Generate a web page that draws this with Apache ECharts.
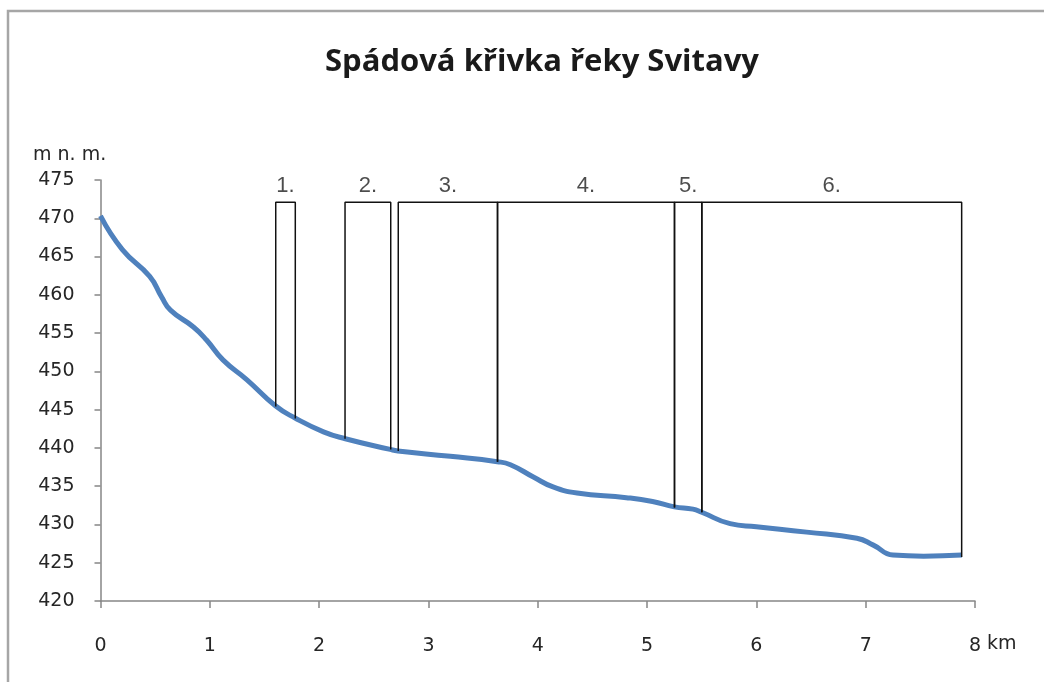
<!DOCTYPE html>
<html>
<head>
<meta charset="utf-8">
<script src="https://cdn.jsdelivr.net/npm/echarts@6/dist/echarts.min.js"></script>
<style>
html,body{margin:0;padding:0;background:#fff;}
#c{width:1044px;height:682px;}
</style>
</head>
<body>
<div id="c"></div>
<script>
// River profile data (distance in km, elevation in m n. m.)
var distanceKm = [0, 0.2, 0.45, 0.56, 0.64, 0.85, 0.97, 1.12, 1.34, 1.6, 1.78, 2.04, 2.24, 2.65, 2.72, 3.2, 3.63, 3.75, 3.96, 4.14, 4.36, 4.81, 5.05, 5.25, 5.42, 5.5, 5.76, 6.0, 6.46, 6.92, 7.07, 7.25, 7.53, 7.88];
var elevation  = [470.3, 465.9, 462.4, 459.7, 458.0, 455.8, 454.1, 451.5, 448.9, 445.5, 443.9, 442.1, 441.2, 439.8, 439.6, 438.9, 438.2, 437.8, 436.2, 434.9, 434.1, 433.5, 433.0, 432.3, 432.0, 431.6, 430.1, 429.7, 429.0, 428.2, 427.3, 426.0, 425.85, 426.0];

// Sections (brackets)
var sectionLabels    = ['1.', '2.', '3.', '4.', '5.', '6.'];
var sectionStartKm   = [1.603, 2.237, 2.724, 3.632, 5.251, 5.501];
var sectionEndKm     = [1.782, 2.655, 3.632, 5.251, 5.501, 7.878];
var sectionStartElev = [445.4, 441.2, 439.6, 438.2, 432.2, 431.6];
var sectionEndElev   = [443.85, 439.8, 438.2, 432.2, 431.6, 425.75];
var sectionTopElev   = 472.1;

// Axis ticks
var xTicks = {min: 0, max: 8, interval: 1};
var yTicks = {min: 420, max: 475, interval: 5};

var title = 'Spádová křivka řeky Svitavy';
var yUnit = 'm n. m.';
var xUnit = 'km';

var chart = echarts.init(document.getElementById('c'), null, {renderer: 'canvas'});

var profile = distanceKm.map(function (d, i) { return [d, elevation[i]]; });

var series = [{
  type: 'line',
  name: 'profile',
  data: profile,
  smooth: 0.5,
  symbol: 'none',
  lineStyle: {color: '#4F81BD', width: 5},
  z: 2
}];

sectionLabels.forEach(function (lab, i) {
  series.push({
    type: 'line',
    data: [
      [sectionStartKm[i], sectionStartElev[i]],
      [sectionStartKm[i], sectionTopElev],
      [sectionEndKm[i], sectionTopElev],
      [sectionEndKm[i], sectionEndElev[i]]
    ],
    symbol: 'none',
    lineStyle: {color: '#111', width: 1.5},
    z: 3
  });
});

series.push({
  type: 'scatter',
  data: sectionLabels.map(function (lab, i) {
    return {name: lab, value: [(sectionStartKm[i] + sectionEndKm[i]) / 2, sectionTopElev]};
  }),
  symbolSize: 0,
  itemStyle: {color: 'transparent'},
  label: {
    show: true,
    position: 'top',
    distance: 5,
    formatter: '{b}',
    fontFamily: 'Liberation Sans',
    fontSize: 22,
    color: '#1f1f1f'
  },
  z: 4
});

var axisGray = '#868686';
var labelFont = 'DejaVu Sans';

chart.setOption({
  animation: false,
  backgroundColor: '#ffffff',
  title: {
    text: title,
    left: 320,
    top: 42,
    textStyle: {fontFamily: 'Open Sans', fontWeight: 'bold', fontSize: 31, color: '#1a1a1a'}
  },
  grid: {left: 100.5, right: 69, top: 180, bottom: 81},
  xAxis: {
    type: 'value',
    min: xTicks.min, max: xTicks.max, interval: xTicks.interval,
    splitLine: {show: false},
    axisLine: {show: true, lineStyle: {color: axisGray, width: 1.5}},
    axisTick: {show: true, length: 7, lineStyle: {color: axisGray, width: 1.5}},
    axisLabel: {margin: 36, fontFamily: labelFont, fontSize: 19, color: '#262626'}
  },
  yAxis: {
    type: 'value',
    min: yTicks.min, max: yTicks.max, interval: yTicks.interval,
    splitLine: {show: false},
    axisLine: {show: true, lineStyle: {color: axisGray, width: 1.5}},
    axisTick: {show: true, length: 6, lineStyle: {color: axisGray, width: 1.5}},
    axisLabel: {margin: 26, fontFamily: labelFont, fontSize: 19, color: '#262626'}
  },
  graphic: [
    {
      type: 'rect',
      shape: {x: 8, y: 11, width: 1200, height: 900},
      style: {fill: 'none', stroke: '#a6a6a6', lineWidth: 2.5},
      silent: true,
      z: -1
    },
    {
      type: 'text',
      left: 33,
      top: 146,
      style: {text: yUnit, fontFamily: labelFont, fontSize: 19, fill: '#262626'}
    },
    {
      type: 'text',
      left: 987,
      top: 635,
      style: {text: xUnit, fontFamily: labelFont, fontSize: 19, fill: '#262626'}
    }
  ],
  series: series
});
</script>
</body>
</html>
